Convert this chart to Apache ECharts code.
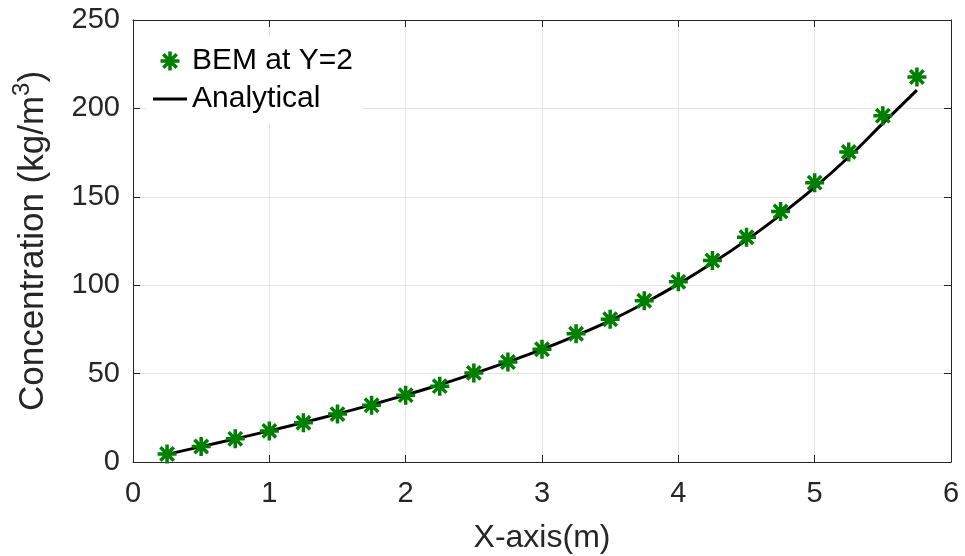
<!DOCTYPE html>
<html><head><meta charset="utf-8">
<script src="https://cdn.jsdelivr.net/npm/echarts@6/dist/echarts.min.js"></script>
<style>html,body{margin:0;padding:0;background:#fff}#c{width:965px;height:556px}</style>
</head><body><div id="c"></div>
<script>
var xValues = [0.25,0.5,0.75,1.0,1.25,1.5,1.75,2.0,2.25,2.5,2.75,3.0,3.25,3.5,3.75,4.0,4.25,4.5,4.75,5.0,5.25,5.5,5.75];
var bemValues = [4.5,8.8,13.1,17.6,22.2,27.1,32.1,37.8,42.9,50.4,56.6,63.8,72.5,80.7,91.2,101.9,114,127.1,141.7,158,175.4,195.9,217.8];
var analyticalValues = [4.3,8.7,13.1,17.6,22.3,27.2,32.4,37.9,43.7,50.0,56.6,63.7,71.5,80.0,89.8,100.6,112.5,125.5,139.8,155.3,172.5,191.5,210.3];
var xTicks = [0,1,2,3,4,5,6];
var yTicks = [0,50,100,150,200,250];

var starPath = 'path://M0,-10 L0,10 M-10,0 L10,0 M-7.07,-7.07 L7.07,7.07 M-7.07,7.07 L7.07,-7.07';
var linePath = 'path://M0,0 L34,0 L34,3 L0,3 Z';
var font = '"Liberation Sans", Arial, Helvetica, sans-serif';
var axisCol = '#262626';

var chart = echarts.init(document.getElementById('c'));
var bemData = xValues.map(function(x,i){return [x,bemValues[i]];});
var anaData = xValues.map(function(x,i){return [x,analyticalValues[i]];});

function xAx(pos, show){
  return {type:'value', position:pos, min:xTicks[0], max:xTicks[xTicks.length-1], interval:xTicks[1]-xTicks[0],
    axisLine:{show:true, onZero:false, lineStyle:{color:axisCol,width:1}},
    axisTick:{show:true, inside:true, length:7, lineStyle:{color:axisCol}},
    axisLabel:{show:show, color:axisCol, fontSize:29, fontFamily:font, margin:17},
    splitLine:{show:show, lineStyle:{color:'#e5e5e5', width:1}},
    name: show ? 'X-axis(m)' : '', nameLocation:'middle', nameGap:60,
    nameTextStyle:{color:axisCol, fontSize:32, fontFamily:font}
  };
}
function yAx(pos, show){
  return {type:'value', position:pos, min:yTicks[0], max:yTicks[yTicks.length-1], interval:yTicks[1]-yTicks[0],
    axisLine:{show:true, onZero:false, lineStyle:{color:axisCol,width:1}},
    axisTick:{show:true, inside:true, length:7, lineStyle:{color:axisCol}},
    axisLabel:{show:show, color:axisCol, fontSize:29, fontFamily:font, margin:13},
    splitLine:{show:show, lineStyle:{color:'#e5e5e5', width:1}},
    name: show ? 'Concentration (kg/m{sup|3})' : '', nameLocation:'middle', nameGap:77,
    nameTextStyle:{color:axisCol, fontSize:35, fontFamily:font,
      rich:{sup:{fontSize:24, verticalAlign:'top', padding:[0,0,22,0], color:axisCol, fontFamily:font}}}
  };
}

chart.setOption({
  backgroundColor:'#fff',
  animation:false,
  grid:{left:133, right:14, top:20, bottom:94, outerBoundsMode:'none'},
  xAxis:[xAx('bottom',true), xAx('top',false)],
  yAxis:[yAx('left',true), yAx('right',false)],
  legend:{
    orient:'vertical', left:147, top:36, itemGap:8, itemWidth:34, itemHeight:19,
    backgroundColor:'#fff', padding:[10,10,10,6],
    textStyle:{color:'#000', fontSize:30, fontFamily:font},
    data:[
      {name:'BEM at Y=2', icon:starPath, itemStyle:{color:'#008000', borderColor:'#008000', borderWidth:3.5}},
      {name:'Analytical', icon:linePath, itemStyle:{color:'#000', borderWidth:0}}
    ]
  },
  series:[
    {name:'Analytical', type:'line', data:anaData, smooth:0.4, showSymbol:false, symbol:'none',
      lineStyle:{color:'#000', width:3}, itemStyle:{color:'#000'}, z:2},
    {name:'BEM at Y=2', type:'scatter', data:bemData, symbol:starPath, symbolSize:19,
      itemStyle:{color:'#008000', borderColor:'#008000', borderWidth:3.5, opacity:1}, z:3}
  ]
});
</script></body></html>
